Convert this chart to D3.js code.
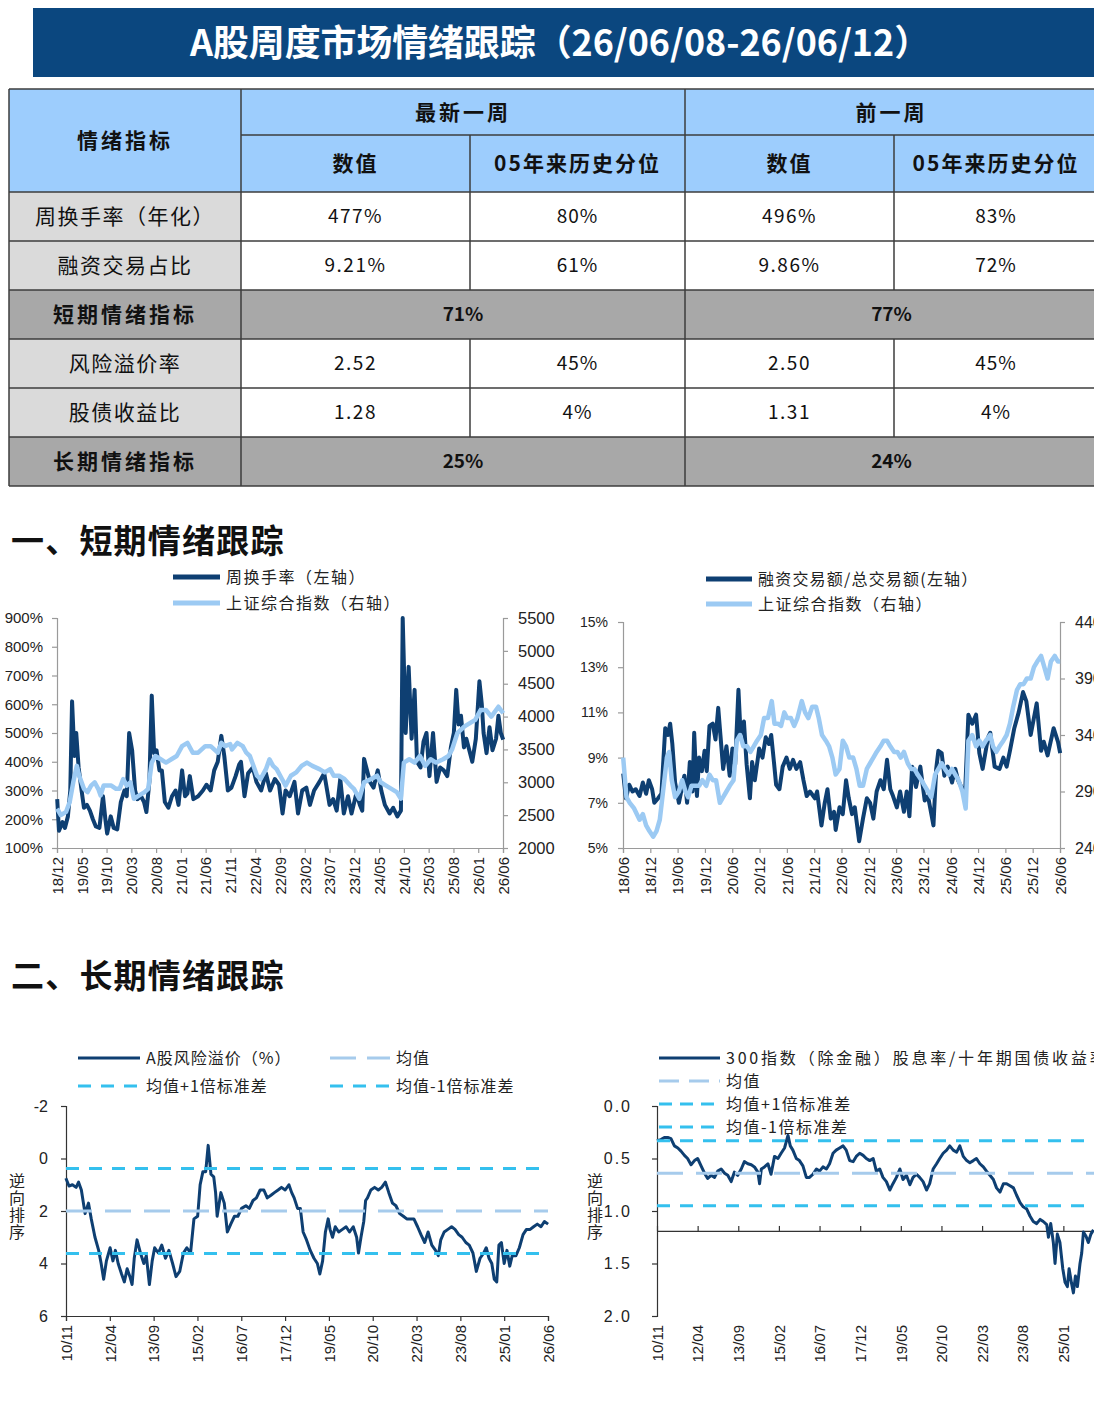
<!DOCTYPE html>
<html><head><meta charset="utf-8">
<script src="https://cdn.jsdelivr.net/npm/d3@7"></script>
<style>body{margin:0;background:#fff}svg{display:block}</style>
</head><body>
<svg id="c" width="1094" height="1416"></svg>
<script>
// ---------------- DATA ----------------
const titleText = "A股周度市场情绪跟踪（26/06/08-26/06/12）";
const headerCorner = "情绪指标";
const periodLabels = ["最新一周", "前一周"];
const subHeaders = ["数值", "05年来历史分位"];
const rowLabels = ["周换手率（年化）", "融资交易占比", "短期情绪指标", "风险溢价率", "股债收益比", "长期情绪指标"];
const compositeRow = [false, false, true, false, false, true];
const latestValue = ["477%", "9.21%", "71%", "2.52", "1.28", "25%"];
const latestPct = ["80%", "61%", "", "45%", "4%", ""];
const prevValue = ["496%", "9.86%", "77%", "2.50", "1.31", "24%"];
const prevPct = ["83%", "72%", "", "45%", "4%", ""];

const section1 = "一、短期情绪跟踪";
const section2 = "二、长期情绪跟踪";

// Chart 1: weekly turnover (annualised, %) and SSE composite
const c1Legend = ["周换手率（左轴）", "上证综合指数（右轴）"];
const c1XTicks = ["18/12","19/05","19/10","20/03","20/08","21/01","21/06","21/11","22/04","22/09","23/02","23/07","23/12","24/05","24/10","25/03","25/08","26/01","26/06"];
const c1LeftTicks = [100,200,300,400,500,600,700,800,900];
const c1RightTicks = [2000,2500,3000,3500,4000,4500,5000,5500];
const turnoverDates = [2018.92,2018.95,2019.01,2019.05,2019.10,2019.14,2019.17,2019.21,2019.24,2019.28,2019.33,2019.37,2019.42,2019.47,2019.52,2019.57,2019.63,2019.69,2019.73,2019.76,2019.82,2019.87,2019.93,2019.99,2020.05,2020.09,2020.13,2020.18,2020.23,2020.27,2020.33,2020.38,2020.42,2020.47,2020.51,2020.55,2020.59,2020.64,2020.68,2020.73,2020.79,2020.85,2020.91,2020.96,2021.02,2021.07,2021.11,2021.15,2021.21,2021.29,2021.37,2021.43,2021.50,2021.56,2021.62,2021.68,2021.73,2021.79,2021.85,2021.92,2021.98,2022.01,2022.07,2022.13,2022.21,2022.27,2022.35,2022.43,2022.50,2022.58,2022.65,2022.71,2022.76,2022.83,2022.91,2022.97,2023.04,2023.11,2023.17,2023.24,2023.33,2023.41,2023.50,2023.56,2023.62,2023.68,2023.74,2023.81,2023.87,2023.95,2024.01,2024.05,2024.08,2024.13,2024.18,2024.24,2024.31,2024.37,2024.43,2024.51,2024.57,2024.64,2024.70,2024.73,2024.78,2024.83,2024.88,2024.93,2024.97,2025.03,2025.08,2025.13,2025.18,2025.24,2025.30,2025.36,2025.42,2025.48,2025.54,2025.59,2025.63,2025.67,2025.71,2025.76,2025.80,2025.85,2025.90,2025.96,2026.02,2026.06,2026.09,2026.14,2026.19,2026.24,2026.30,2026.34,2026.38,2026.42];
const turnoverValues = [270,160,190,170,210,300,610,420,500,380,300,240,250,230,200,175,170,280,200,150,210,170,165,260,300,280,500,440,300,270,280,260,225,330,630,430,440,370,370,260,240,280,300,250,370,280,290,350,270,280,300,320,300,370,400,490,420,300,310,350,390,400,280,360,380,330,300,360,300,340,320,220,300,280,330,220,300,310,250,300,330,360,250,270,230,340,220,280,220,290,250,230,410,370,330,310,370,300,250,220,240,210,230,900,500,730,480,650,400,380,470,500,350,500,330,380,370,350,450,500,650,530,560,450,480,440,400,480,680,600,500,430,520,440,480,560,500,477];
const sseDates1 = [2018.92,2018.98,2019.07,2019.13,2019.19,2019.25,2019.29,2019.37,2019.43,2019.49,2019.55,2019.61,2019.65,2019.70,2019.76,2019.83,2019.91,2019.97,2020.03,2020.09,2020.15,2020.21,2020.30,2020.39,2020.45,2020.51,2020.57,2020.66,2020.75,2020.84,2020.93,2021.02,2021.11,2021.20,2021.29,2021.41,2021.50,2021.56,2021.62,2021.68,2021.74,2021.83,2021.86,2021.95,2022.04,2022.10,2022.16,2022.22,2022.28,2022.34,2022.43,2022.49,2022.55,2022.61,2022.70,2022.76,2022.85,2022.94,2023.03,2023.12,2023.21,2023.33,2023.42,2023.51,2023.57,2023.66,2023.75,2023.85,2023.91,2024.00,2024.08,2024.20,2024.30,2024.36,2024.45,2024.54,2024.63,2024.70,2024.75,2024.84,2024.93,2025.02,2025.11,2025.20,2025.29,2025.41,2025.50,2025.56,2025.65,2025.77,2025.86,2025.95,2026.04,2026.13,2026.22,2026.34,2026.42];
const sseValues1 = [2600,2500,2550,2700,3000,3250,3100,2900,2850,2950,3000,2900,2800,2950,2950,2950,2900,2900,3050,2950,3000,2750,2800,2850,2900,3300,3400,3350,3300,3350,3400,3550,3600,3450,3450,3550,3550,3500,3450,3600,3550,3580,3500,3600,3550,3450,3400,3250,3100,3050,3200,3350,3250,3200,3050,2950,3100,3150,3250,3300,3250,3200,3150,3200,3100,3100,3050,2950,2900,2750,3000,3050,3100,3000,2950,2900,2850,2750,3300,3350,3300,3400,3250,3350,3300,3350,3400,3500,3750,3850,3900,3950,4100,4100,4000,4150,4050];

// Chart 2: margin trading share (%) and SSE composite
const c2Legend = ["融资交易额/总交易额(左轴）", "上证综合指数（右轴）"];
const c2XTicks = ["18/06","18/12","19/06","19/12","20/06","20/12","21/06","21/12","22/06","22/12","23/06","23/12","24/06","24/12","25/06","25/12","26/06"];
const c2LeftTicks = [5,7,9,11,13,15];
const c2RightTicks = [2400,2900,3400,3900,4400];
const marginDates = [2018.42,2018.47,2018.53,2018.59,2018.65,2018.72,2018.78,2018.84,2018.89,2018.95,2018.99,2019.06,2019.12,2019.19,2019.24,2019.28,2019.32,2019.37,2019.44,2019.49,2019.54,2019.59,2019.64,2019.69,2019.72,2019.77,2019.81,2019.86,2019.91,2019.95,2020.00,2020.06,2020.11,2020.16,2020.20,2020.25,2020.31,2020.37,2020.42,2020.47,2020.53,2020.57,2020.63,2020.68,2020.74,2020.78,2020.83,2020.91,2020.97,2021.03,2021.09,2021.13,2021.18,2021.22,2021.28,2021.34,2021.41,2021.47,2021.53,2021.59,2021.66,2021.72,2021.78,2021.84,2021.93,2021.97,2022.05,2022.11,2022.16,2022.22,2022.28,2022.31,2022.38,2022.44,2022.50,2022.55,2022.61,2022.66,2022.74,2022.81,2022.88,2022.94,2023.00,2023.06,2023.13,2023.19,2023.25,2023.31,2023.36,2023.43,2023.49,2023.56,2023.61,2023.66,2023.71,2023.78,2023.86,2023.94,2024.00,2024.10,2024.15,2024.19,2024.25,2024.30,2024.36,2024.44,2024.50,2024.55,2024.61,2024.68,2024.74,2024.81,2024.88,2024.94,2025.00,2025.10,2025.14,2025.22,2025.31,2025.38,2025.44,2025.50,2025.58,2025.66,2025.74,2025.80,2025.88,2025.99,2026.07,2026.12,2026.19,2026.30,2026.38,2026.42];
const marginValues = [8.3,7.2,7.8,7.5,7.6,7.3,7.9,7.4,8.0,7.6,7.0,7.2,7.4,10.3,10.0,10.5,9.6,7.9,7.0,7.6,8.2,7.0,8.8,7.5,10.1,7.3,9.0,8.4,9.3,8.4,10.4,10.5,9.8,11.2,10.0,8.5,9.5,8.2,9.4,8.7,12.0,10.0,10.6,8.7,7.2,8.8,8.0,9.4,9.0,9.9,9.6,10.0,8.8,7.8,7.6,8.6,9.0,8.5,8.9,8.5,8.8,8.0,7.3,7.5,7.2,7.5,6.0,7.0,7.6,6.3,6.6,5.8,6.8,6.5,8.0,7.2,6.5,6.8,5.3,6.3,7.2,7.0,6.3,7.5,8.0,7.6,8.9,7.6,7.3,6.8,7.5,6.6,7.5,6.4,8.6,7.7,8.6,7.1,7.3,6.0,8.5,9.3,9.2,8.2,8.6,7.9,8.5,8.0,7.7,7.5,10.9,10.5,10.9,9.2,8.5,9.9,10.1,8.6,8.5,9.0,8.6,9.3,10.3,11.0,11.9,11.5,10.0,11.4,9.3,9.7,9.1,10.3,9.7,9.2];
const sseDates2 = [2018.42,2018.48,2018.54,2018.62,2018.72,2018.78,2018.84,2018.90,2018.97,2019.03,2019.09,2019.15,2019.22,2019.26,2019.31,2019.37,2019.44,2019.50,2019.56,2019.61,2019.67,2019.74,2019.81,2019.87,2019.94,2020.00,2020.06,2020.12,2020.19,2020.25,2020.31,2020.37,2020.44,2020.50,2020.56,2020.62,2020.69,2020.75,2020.81,2020.87,2020.94,2021.00,2021.07,2021.14,2021.19,2021.25,2021.31,2021.37,2021.42,2021.49,2021.55,2021.61,2021.69,2021.75,2021.81,2021.88,2021.95,2022.00,2022.06,2022.13,2022.19,2022.25,2022.31,2022.38,2022.44,2022.50,2022.56,2022.63,2022.69,2022.75,2022.81,2022.88,2022.94,2023.00,2023.06,2023.13,2023.19,2023.25,2023.31,2023.38,2023.44,2023.50,2023.56,2023.63,2023.69,2023.75,2023.81,2023.88,2023.94,2024.00,2024.06,2024.13,2024.19,2024.25,2024.31,2024.38,2024.44,2024.50,2024.56,2024.63,2024.69,2024.74,2024.81,2024.88,2024.94,2025.00,2025.06,2025.14,2025.19,2025.25,2025.31,2025.38,2025.44,2025.50,2025.56,2025.63,2025.69,2025.75,2025.81,2025.88,2025.94,2026.00,2026.07,2026.13,2026.19,2026.25,2026.32,2026.38,2026.42];
const sseValues2 = [3200,2850,2800,2750,2650,2700,2600,2550,2500,2550,2650,2900,3200,3250,3000,2850,2900,3000,2900,2850,2950,2950,2950,3000,2950,3050,3000,3000,2800,2850,2900,2950,3000,3350,3400,3300,3300,3250,3300,3350,3400,3550,3550,3700,3500,3500,3480,3600,3550,3550,3480,3550,3700,3600,3550,3650,3650,3550,3400,3350,3300,3200,3050,3100,3350,3300,3200,3200,3100,2950,2950,3100,3150,3200,3250,3300,3350,3350,3300,3250,3250,3200,3250,3150,3100,3100,3050,3000,2950,2900,2850,3050,3100,3150,3100,3050,3100,3050,3000,2900,2750,3350,3400,3300,3350,3300,3350,3400,3300,3250,3300,3350,3400,3500,3650,3800,3850,3850,3900,3900,4000,4050,4100,4000,3900,4050,4100,4050,4050];

// Chart 3: A-share equity risk premium (%), reversed axis
const c3Legend = ["A股风险溢价（%）", "均值", "均值+1倍标准差", "均值-1倍标准差"];
const longXTicks = ["10/11","12/04","13/09","15/02","16/07","17/12","19/05","20/10","22/03","23/08","25/01","26/06"];
const c3YTicks = [-2,0,2,4,6];
const erpDates = [2010.83,2010.93,2011.04,2011.16,2011.24,2011.33,2011.45,2011.56,2011.65,2011.77,2011.89,2011.97,2012.05,2012.14,2012.26,2012.35,2012.43,2012.52,2012.63,2012.72,2012.81,2012.90,2012.97,2013.04,2013.13,2013.24,2013.35,2013.43,2013.53,2013.62,2013.70,2013.82,2013.93,2014.05,2014.16,2014.28,2014.39,2014.51,2014.63,2014.74,2014.86,2014.97,2015.09,2015.17,2015.26,2015.35,2015.43,2015.52,2015.61,2015.67,2015.72,2015.84,2015.95,2016.05,2016.16,2016.28,2016.39,2016.51,2016.65,2016.76,2016.88,2016.99,2017.11,2017.23,2017.34,2017.46,2017.57,2017.69,2017.80,2017.92,2018.04,2018.13,2018.21,2018.32,2018.41,2018.50,2018.61,2018.73,2018.85,2018.96,2019.04,2019.13,2019.22,2019.31,2019.37,2019.45,2019.54,2019.65,2019.77,2019.89,2020.00,2020.12,2020.23,2020.29,2020.37,2020.46,2020.52,2020.58,2020.69,2020.81,2020.93,2021.04,2021.16,2021.27,2021.39,2021.50,2021.62,2021.74,2021.85,2021.97,2022.08,2022.20,2022.31,2022.43,2022.54,2022.66,2022.78,2022.87,2022.95,2023.06,2023.18,2023.30,2023.41,2023.53,2023.64,2023.76,2023.87,2023.99,2024.10,2024.22,2024.34,2024.42,2024.51,2024.60,2024.68,2024.76,2024.83,2024.91,2025.00,2025.09,2025.18,2025.26,2025.38,2025.49,2025.61,2025.72,2025.84,2025.95,2026.07,2026.19,2026.30,2026.42];
const erpValues = [0.75,1.05,1.0,1.1,0.9,1.2,2.1,1.7,2.3,3.0,3.5,4.0,4.6,3.9,3.4,3.9,3.5,4.0,4.4,4.7,4.2,4.5,4.8,3.8,3.1,3.6,4.0,3.7,4.8,3.9,3.4,3.6,3.3,3.8,3.5,4.0,4.5,4.3,3.6,3.4,3.6,2.3,2.2,1.0,0.5,0.5,-0.5,0.6,0.7,1.3,2.2,1.3,1.7,2.8,2.5,2.2,2.2,1.9,1.8,1.9,1.6,1.5,1.2,1.2,1.5,1.4,1.3,1.2,1.1,1.2,1.0,1.3,1.5,1.9,1.9,2.8,3.1,3.5,3.8,4.0,4.4,3.9,2.8,2.3,2.7,3.0,2.6,2.8,2.7,2.6,2.8,2.6,3.0,3.6,3.0,2.4,1.6,1.5,1.2,1.1,1.2,1.1,0.9,1.3,1.7,1.8,2.1,2.2,2.3,2.3,2.3,2.6,2.9,3.2,2.8,3.3,3.5,3.7,3.1,2.8,2.7,2.6,2.7,2.9,3.0,3.2,3.3,3.6,4.3,3.8,3.6,3.4,3.8,4.0,4.6,4.7,3.3,3.2,4.0,3.5,4.1,3.7,3.7,3.4,2.9,2.7,2.7,2.6,2.5,2.6,2.4,2.5];
const erpBands = [2.0, 0.38, 3.62]; // mean, mean+1sd, mean-1sd

// Chart 4: CSI300 (ex-fin) dividend yield / 10Y CGB yield, reversed axis
const c4Legend = ["300指数（除金融）股息率/十年期国债收益率", "均值", "均值+1倍标准差", "均值-1倍标准差"];
const c4YTicks = [0, 0.5, 1.0, 1.5, 2.0];
const c4AxisCross = 1.19;
const dyDates = [2010.83,2010.97,2011.09,2011.21,2011.32,2011.44,2011.56,2011.67,2011.79,2011.90,2012.02,2012.14,2012.25,2012.37,2012.49,2012.60,2012.72,2012.84,2012.95,2013.07,2013.19,2013.30,2013.42,2013.53,2013.65,2013.77,2013.88,2014.00,2014.12,2014.23,2014.35,2014.41,2014.47,2014.58,2014.70,2014.81,2014.93,2015.05,2015.16,2015.28,2015.40,2015.48,2015.57,2015.69,2015.80,2015.92,2016.04,2016.15,2016.27,2016.39,2016.50,2016.62,2016.74,2016.85,2016.97,2017.08,2017.20,2017.32,2017.43,2017.55,2017.67,2017.78,2017.90,2018.02,2018.13,2018.25,2018.37,2018.48,2018.60,2018.71,2018.83,2018.95,2019.06,2019.18,2019.30,2019.41,2019.53,2019.65,2019.76,2019.88,2019.99,2020.11,2020.23,2020.34,2020.46,2020.58,2020.69,2020.81,2020.93,2021.04,2021.16,2021.28,2021.39,2021.51,2021.63,2021.74,2021.86,2021.97,2022.09,2022.21,2022.32,2022.44,2022.56,2022.67,2022.79,2022.91,2023.02,2023.14,2023.26,2023.37,2023.49,2023.60,2023.72,2023.84,2023.95,2024.07,2024.19,2024.30,2024.42,2024.48,2024.56,2024.65,2024.71,2024.79,2024.88,2024.98,2025.06,2025.14,2025.20,2025.28,2025.35,2025.42,2025.49,2025.58,2025.64,2025.70,2025.79,2025.87,2025.96,2026.05];
const dyValues = [0.33,0.32,0.30,0.30,0.31,0.38,0.40,0.43,0.47,0.50,0.56,0.52,0.50,0.57,0.64,0.69,0.66,0.68,0.62,0.60,0.64,0.66,0.72,0.63,0.66,0.60,0.53,0.55,0.56,0.58,0.63,0.74,0.60,0.58,0.55,0.65,0.48,0.50,0.45,0.40,0.28,0.38,0.42,0.50,0.52,0.57,0.68,0.68,0.65,0.60,0.62,0.58,0.60,0.55,0.45,0.42,0.40,0.38,0.42,0.52,0.53,0.48,0.45,0.47,0.50,0.52,0.50,0.62,0.60,0.68,0.72,0.80,0.74,0.68,0.60,0.70,0.66,0.75,0.68,0.65,0.68,0.72,0.80,0.74,0.60,0.55,0.50,0.45,0.42,0.38,0.42,0.44,0.38,0.48,0.52,0.54,0.52,0.50,0.55,0.58,0.62,0.66,0.70,0.78,0.82,0.74,0.74,0.76,0.78,0.85,0.92,0.96,0.98,1.05,1.10,1.12,1.08,1.10,1.13,1.25,1.12,1.30,1.50,1.22,1.30,1.55,1.68,1.72,1.55,1.68,1.78,1.62,1.72,1.50,1.40,1.20,1.24,1.30,1.22,1.18];
const dyBands = [0.64, 0.33, 0.95];
const yTitle = "逆向排序";

// ---------------- DRAW ----------------
const CJK = '"Noto Sans CJK SC","Noto Sans",sans-serif';
const NUM = '"Liberation Sans",Arial,sans-serif';
const DARK = "#0e3f72", LIGHT = "#9ccaf3", CYAN = "#34c0ee", MEANC = "#a6cbec", BORDER = "#3c3c3c";
const svg = d3.select("#c");
const tickPos = s => { const [yy, mm] = s.split("/").map(Number); return 2000 + yy + (mm - 1) / 12; };

// Title
svg.append("rect").attr("x", 33).attr("y", 8).attr("width", 1061).attr("height", 69).attr("fill", "#0b477f");
svg.append("text").attr("x", 560).attr("y", 56).attr("text-anchor", "middle").attr("fill", "#fff")
  .attr("font-family", CJK).attr("font-weight", "bold").attr("font-size", 36)
  .attr("textLength", 740).attr("lengthAdjust", "spacingAndGlyphs").text(titleText);

// Table
const C = [9, 241, 470, 685, 894, 1098];
const R = [89, 135, 192, 241, 290, 339, 388, 437, 486];
const tbl = svg.append("g");
tbl.append("rect").attr("x", C[0]).attr("y", R[0]).attr("width", C[5] - C[0]).attr("height", R[2] - R[0]).attr("fill", "#9dcdfd");
rowLabels.forEach((lab, i) => {
  const y0 = R[i + 2], h = R[i + 3] - R[i + 2];
  if (compositeRow[i]) {
    tbl.append("rect").attr("x", C[0]).attr("y", y0).attr("width", C[5] - C[0]).attr("height", h).attr("fill", "#a8a8a8");
  } else {
    tbl.append("rect").attr("x", C[0]).attr("y", y0).attr("width", C[1] - C[0]).attr("height", h).attr("fill", "#dadada");
    tbl.append("rect").attr("x", C[1]).attr("y", y0).attr("width", C[5] - C[1]).attr("height", h).attr("fill", "#fff");
  }
});
const ln = (x1, y1, x2, y2) => tbl.append("line").attr("x1", x1).attr("y1", y1).attr("x2", x2).attr("y2", y2).attr("stroke", BORDER).attr("stroke-width", 1.5);
R.forEach((y, k) => { if (k === 1) ln(C[1], y, C[5], y); else ln(C[0], y, C[5], y); });
ln(C[0], R[0], C[0], R[8]); ln(C[1], R[0], C[1], R[8]); ln(C[3], R[0], C[3], R[8]);
[C[2], C[4]].forEach(x => {
  ln(x, R[1], x, R[2]);
  rowLabels.forEach((lab, i) => { if (!compositeRow[i]) ln(x, R[i + 2], x, R[i + 3]); });
});
const tt = (x, y, s, bold, size, ls) => tbl.append("text").attr("x", x).attr("y", y).attr("dy", "0.36em").attr("text-anchor", "middle")
  .attr("font-family", CJK).attr("font-size", size).attr("font-weight", bold ? "bold" : "normal").attr("fill", "#111")
  .style("letter-spacing", (ls || 0) + "px").text(s);
tt((C[0] + C[1]) / 2, (R[0] + R[2]) / 2, headerCorner, true, 21, 3);
tt((C[1] + C[3]) / 2, (R[0] + R[1]) / 2, periodLabels[0], true, 21, 3);
tt((C[3] + C[5]) / 2, (R[0] + R[1]) / 2, periodLabels[1], true, 21, 3);
[1, 2, 3, 4].forEach(c => tt((C[c] + C[c + 1]) / 2, (R[1] + R[2]) / 2, subHeaders[(c - 1) % 2], true, 21, 2));
rowLabels.forEach((lab, i) => {
  const cy = (R[i + 2] + R[i + 3]) / 2;
  tt((C[0] + C[1]) / 2, cy, lab, compositeRow[i], 21, compositeRow[i] ? 3 : 1.5);
  if (compositeRow[i]) {
    tt((C[1] + C[3]) / 2, cy, latestValue[i], true, 19, 0);
    tt((C[3] + C[5]) / 2, cy, prevValue[i], true, 19, 0);
  } else {
    tt((C[1] + C[2]) / 2, cy, latestValue[i], false, 19, 1.5);
    tt((C[2] + C[3]) / 2, cy, latestPct[i], false, 19, 1);
    tt((C[3] + C[4]) / 2, cy, prevValue[i], false, 19, 1.5);
    tt((C[4] + C[5]) / 2, cy, prevPct[i], false, 19, 1);
  }
});

// Section headings
[[section1, 553], [section2, 988]].forEach(([s, y]) =>
  svg.append("text").attr("x", 11).attr("y", y).attr("font-family", CJK).attr("font-weight", "bold")
    .attr("font-size", 33).attr("fill", "#111").style("letter-spacing", "1.2px").text(s));

// helpers
function styleAxis(g, color, font, size) {
  g.attr("font-family", font).attr("font-size", size);
  g.select(".domain").attr("stroke", color).attr("stroke-width", 1.2);
  g.selectAll(".tick line").attr("stroke", color).attr("stroke-width", 1.2);
  g.selectAll(".tick text").attr("fill", "#222");
}
function rotateLabels(g) {
  g.selectAll(".tick text").attr("transform", "rotate(-90)").attr("x", -9).attr("y", 0)
    .attr("dy", "0.35em").style("text-anchor", "end");
}
function legendText(x, y, s, size, ls) {
  svg.append("text").attr("x", x).attr("y", y).attr("dy", "0.35em").attr("font-family", CJK)
    .attr("font-size", size).attr("fill", "#222").style("letter-spacing", ls + "px").text(s);
}
function legendLine(x1, x2, y, color, w, dash) {
  svg.append("line").attr("x1", x1).attr("x2", x2).attr("y1", y).attr("y2", y).attr("stroke", color)
    .attr("stroke-width", w).attr("stroke-dasharray", dash || null);
}
function drawSeries(dates, vals, x, y, color, w) {
  svg.append("path").datum(d3.zip(dates, vals)).attr("fill", "none").attr("stroke", color)
    .attr("stroke-width", w).attr("stroke-linejoin", "round")
    .attr("d", d3.line().x(d => x(d[0])).y(d => y(d[1])));
}
function verticalTitle(x, yTop, s) {
  svg.append("text").attr("x", x).attr("y", yTop).attr("font-family", CJK).attr("font-size", 16)
    .attr("fill", "#222").style("writing-mode", "vertical-rl").style("letter-spacing", "1px").text(s);
}
const AX = "#9a9a9a";

// ---- Chart 1 ----
{
  const x = d3.scaleLinear().domain([tickPos(c1XTicks[0]), tickPos(c1XTicks[c1XTicks.length - 1])]).range([57, 503]);
  const yL = d3.scaleLinear().domain([100, 900]).range([848, 618]);
  const yR = d3.scaleLinear().domain([2000, 5500]).range([848, 618]);
  const gL = svg.append("g").attr("transform", "translate(57,0)")
    .call(d3.axisLeft(yL).tickValues(c1LeftTicks).tickFormat(d => d + "%").tickSize(5).tickPadding(9));
  styleAxis(gL, AX, NUM, 15);
  const gR = svg.append("g").attr("transform", "translate(503,0)")
    .call(d3.axisRight(yR).tickValues(c1RightTicks).tickFormat(d3.format("d")).tickSize(5).tickPadding(10));
  styleAxis(gR, AX, NUM, 16.5);
  const gB = svg.append("g").attr("transform", "translate(0,848)")
    .call(d3.axisBottom(x).tickValues(c1XTicks.map(tickPos)).tickFormat((d, i) => c1XTicks[i]).tickSize(5));
  styleAxis(gB, AX, NUM, 15); rotateLabels(gB);
  drawSeries(turnoverDates, turnoverValues, x, yL, DARK, 4);
  drawSeries(sseDates1, sseValues1, x, yR, LIGHT, 4.5);
  legendLine(173, 220, 577, DARK, 5); legendText(226, 577, c1Legend[0], 16, 1.5);
  legendLine(173, 220, 603, LIGHT, 5); legendText(226, 603, c1Legend[1], 16, 1.5);
}

// ---- Chart 2 ----
{
  const x = d3.scaleLinear().domain([tickPos(c2XTicks[0]), tickPos(c2XTicks[c2XTicks.length - 1])]).range([623, 1060]);
  const yL = d3.scaleLinear().domain([5, 15]).range([848, 622]);
  const yR = d3.scaleLinear().domain([2400, 4400]).range([848, 622]);
  const gL = svg.append("g").attr("transform", "translate(623,0)")
    .call(d3.axisLeft(yL).tickValues(c2LeftTicks).tickFormat(d => d + "%").tickSize(5).tickPadding(10));
  styleAxis(gL, AX, NUM, 14);
  const gR = svg.append("g").attr("transform", "translate(1060,0)")
    .call(d3.axisRight(yR).tickValues(c2RightTicks).tickFormat(d3.format("d")).tickSize(5).tickPadding(10));
  styleAxis(gR, AX, NUM, 16);
  const gB = svg.append("g").attr("transform", "translate(0,848)")
    .call(d3.axisBottom(x).tickValues(c2XTicks.map(tickPos)).tickFormat((d, i) => c2XTicks[i]).tickSize(5));
  styleAxis(gB, AX, NUM, 15); rotateLabels(gB);
  drawSeries(marginDates, marginValues, x, yL, DARK, 4);
  drawSeries(sseDates2, sseValues2, x, yR, LIGHT, 4.5);
  legendLine(706, 752, 579, DARK, 5); legendText(758, 579, c2Legend[0], 16, 1.2);
  legendLine(706, 752, 604, LIGHT, 5); legendText(758, 604, c2Legend[1], 16, 1.5);
}

// ---- Chart 3 ----
{
  const x = d3.scaleLinear().domain([tickPos(longXTicks[0]), tickPos(longXTicks[longXTicks.length - 1])]).range([66, 548]);
  const y = d3.scaleLinear().domain([-2, 6]).range([1106, 1316]);
  const gL = svg.append("g").attr("transform", "translate(66,0)")
    .call(d3.axisLeft(y).tickValues(c3YTicks).tickFormat(d => String(d)).tickSize(5).tickPadding(13));
  styleAxis(gL, "#333", NUM, 16);
  const gB = svg.append("g").attr("transform", "translate(0,1316)")
    .call(d3.axisBottom(x).tickValues(longXTicks.map(tickPos)).tickFormat((d, i) => longXTicks[i]).tickSize(5));
  styleAxis(gB, "#333", NUM, 15); rotateLabels(gB);
  drawSeries(erpDates, erpValues, x, y, DARK, 3);
  const [m, p, n] = erpBands;
  [[m, MEANC, "26,13"], [p, CYAN, "13,10"], [n, CYAN, "13,10"]].forEach(([v, col, dash]) =>
    svg.append("line").attr("x1", 66).attr("x2", 548).attr("y1", y(v)).attr("y2", y(v))
      .attr("stroke", col).attr("stroke-width", 3).attr("stroke-dasharray", dash));
  legendLine(78, 140, 1058, DARK, 3); legendText(146, 1058, c3Legend[0], 16, 1);
  legendLine(330, 390, 1058, MEANC, 3, "26,11"); legendText(396, 1058, c3Legend[1], 16, 1);
  legendLine(78, 140, 1086, CYAN, 3, "13,10"); legendText(146, 1086, c3Legend[2], 16, 1);
  legendLine(330, 390, 1086, CYAN, 3, "13,10"); legendText(396, 1086, c3Legend[3], 16, 1);
  verticalTitle(17, 1173, yTitle);
}

// ---- Chart 4 ----
{
  const x = d3.scaleLinear().domain([tickPos(longXTicks[0]), tickPos(longXTicks[longXTicks.length - 1])]).range([657, 1104]);
  const y = d3.scaleLinear().domain([0, 2]).range([1106, 1316]);
  const gL = svg.append("g").attr("transform", "translate(657,0)")
    .call(d3.axisLeft(y).tickValues(c4YTicks).tickFormat(d3.format(".1f")).tickSize(5).tickPadding(20));
  styleAxis(gL, "#333", NUM, 16);
  gL.selectAll(".tick text").style("letter-spacing", "2px");
  const gX = svg.append("g").attr("transform", `translate(0,${y(c4AxisCross)})`)
    .call(d3.axisBottom(x).tickValues(longXTicks.map(tickPos)).tickFormat("").tickSizeInner(-5).tickSizeOuter(0));
  styleAxis(gX, "#333", NUM, 15);
  const gB = svg.append("g").attr("transform", "translate(0,1316)")
    .call(d3.axisBottom(x).tickValues(longXTicks.map(tickPos)).tickFormat((d, i) => longXTicks[i]).tickSize(0));
  gB.select(".domain").remove();
  styleAxis(gB, "#333", NUM, 15); rotateLabels(gB);
  drawSeries(dyDates, dyValues, x, y, DARK, 3);
  const [m, p, n] = dyBands;
  [[m, MEANC, "26,13"], [p, CYAN, "13,10"], [n, CYAN, "13,10"]].forEach(([v, col, dash]) =>
    svg.append("line").attr("x1", 657).attr("x2", 1104).attr("y1", y(v)).attr("y2", y(v))
      .attr("stroke", col).attr("stroke-width", 3).attr("stroke-dasharray", dash));
  legendLine(659, 720, 1058, DARK, 3); legendText(726, 1058, c4Legend[0], 16, 2.8);
  legendLine(659, 720, 1081, MEANC, 3, "20,10"); legendText(726, 1081, c4Legend[1], 16, 1.5);
  legendLine(659, 720, 1104, CYAN, 3, "13,8"); legendText(726, 1104, c4Legend[2], 16, 1.5);
  legendLine(659, 720, 1127, CYAN, 3, "13,8"); legendText(726, 1127, c4Legend[3], 16, 1.5);
  verticalTitle(595, 1173, yTitle);
}
</script>
</body></html>
